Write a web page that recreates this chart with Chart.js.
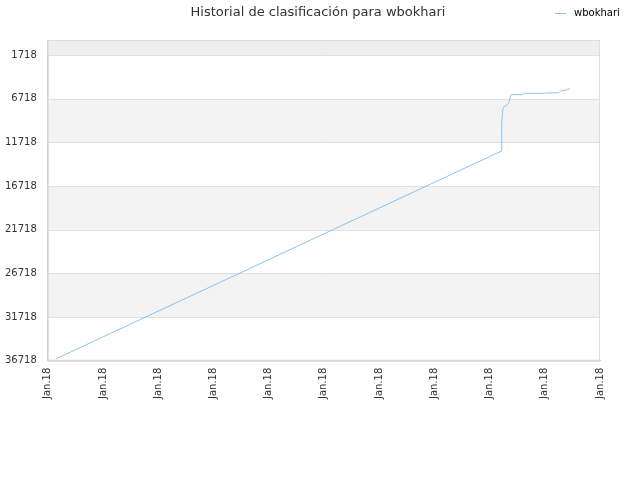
<!DOCTYPE html>
<html><head><meta charset="utf-8">
<script src="https://cdn.jsdelivr.net/npm/chart.js@4"></script>
<style>body{margin:0;background:#fff}#w{width:640px;height:480px}</style>
</head><body><div id="w"><canvas id="c"></canvas></div>
<script>
const seriesName = "wbokhari";
const xPos =  [0.15, 1.5, 3.0, 4.5, 6.0, 7.0, 8.0, 8.22, 8.22, 8.24, 8.25, 8.3, 8.35, 8.38, 8.4, 8.6, 8.62, 9.0, 9.05, 9.25, 9.3, 9.42, 9.45];
const ranks = [36500, 32520, 28100, 23670, 19250, 16300, 13350, 12700, 9500, 8000, 7700, 7500, 7200, 6400, 6250, 6250, 6100, 6100, 6050, 6050, 5800, 5700, 5500];
const yTicks = [1718, 6718, 11718, 16718, 21718, 26718, 31718, 36718];
const xTicks = [0,1,2,3,4,5,6,7,8,9,10];
const xLabel = "Jan.18";
const titleText = "Historial de clasificación para wbokhari";
const deco = {id:'deco',
 beforeDatasetsDraw(ch){const y=ch.scales.y,a=ch.chartArea,c=ch.ctx;c.save();
  c.fillStyle='#eeeeee';c.fillRect(a.left,a.top,a.width,y.getPixelForValue(1718)-a.top);
  c.fillStyle='#f3f3f3';
  for(let i=1;i<yTicks.length-1;i+=2){const t=y.getPixelForValue(yTicks[i]),b=y.getPixelForValue(yTicks[i+1]);c.fillRect(a.left,t,a.width,b-t);}
  c.strokeStyle='#e0e0e0';c.lineWidth=1;
  for(const v of yTicks){const p=Math.round(y.getPixelForValue(v))+0.5;c.beginPath();c.moveTo(a.left,p);c.lineTo(a.right,p);c.stroke();}
  c.strokeStyle='#dddddd';c.strokeRect(a.left+0.5,a.top+0.5,a.width-1,a.height-1);c.restore();},
 afterDraw(ch){const c=ch.ctx;c.save();c.fillStyle='#333';c.font='13px "DejaVu Sans"';c.textAlign='center';c.textBaseline='middle';
  c.fillText(titleText,318,13);
  c.strokeStyle='#90c0f0';c.lineWidth=1;c.beginPath();c.moveTo(555,13.5);c.lineTo(566,13.5);c.stroke();
  c.fillStyle='#000';c.font='10px "DejaVu Sans"';c.textAlign='left';c.fillText(seriesName,574,13);c.restore();}};
new Chart(document.getElementById('c'),{type:'line',
 data:{datasets:[{label:seriesName,data:xPos.map((x,i)=>({x,y:ranks[i]})),borderColor:'#90c0f0',backgroundColor:'#90c0f0',borderWidth:1,pointRadius:0,tension:0}]},
 plugins:[deco],
 options:{responsive:true,maintainAspectRatio:false,animation:false,
  layout:{padding:{left:2,right:40,top:40,bottom:78}},
  plugins:{title:{display:false},legend:{display:false},tooltip:{enabled:false}},
  scales:{
   x:{type:'linear',min:0,max:10,afterBuildTicks:s=>{s.ticks=xTicks.map(v=>({value:v}));},
      ticks:{callback:()=>xLabel,maxRotation:90,minRotation:90,color:'#333',font:{family:'DejaVu Sans',size:10}},grid:{display:false,tickLength:4},border:{color:'#ccc'}},
   y:{type:'linear',reverse:true,min:0,max:36718,afterBuildTicks:s=>{s.ticks=yTicks.map(v=>({value:v}));},
      ticks:{callback:v=>String(v),color:'#333',font:{family:'DejaVu Sans',size:10}},grid:{display:false},border:{color:'#ccc'}}
  }}});
</script></body></html>
